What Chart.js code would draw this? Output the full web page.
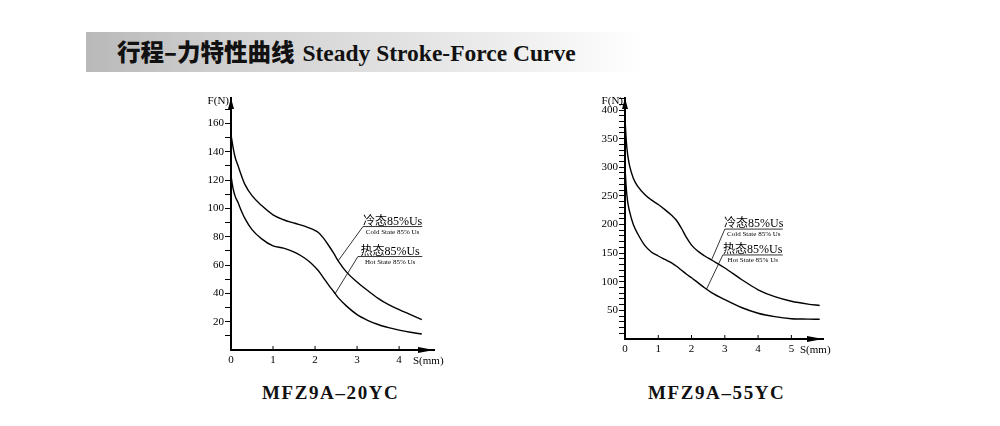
<!DOCTYPE html>
<html>
<head>
<meta charset="utf-8">
<script src="https://cdn.jsdelivr.net/npm/chart.js@4/dist/chart.umd.min.js"></script>
<style>
  body { margin: 0; width: 1000px; height: 426px; background: #fff; position: relative; overflow: hidden; }
  .banner {
    position: absolute; left: 86px; top: 32px; width: 560px; height: 40px;
    background: linear-gradient(to right, #b9b9b9 0%, #cfcfcf 25%, #e4e4e4 60%, #ffffff 100%);
  }
  .banner-text { position: absolute; left: 117px; top: 35px; font-size: 23.5px; line-height: 32px; color: #111; white-space: nowrap; }
  .banner-text .cn { font-family: "Noto Sans CJK SC"; font-weight: 900; }
  .banner-text .en { font-family: "Liberation Serif"; font-weight: bold; margin-left: 8px; }
  .box { position: absolute; }
  .model { position: absolute; top: 382px; font-family: "Liberation Serif"; font-weight: bold; font-size: 19px; letter-spacing: 1.6px; color: #111; }
</style>
</head>
<body>
<div class="banner"></div>
<div class="banner-text"><span class="cn">行程–力特性曲线</span><span class="en">Steady Stroke-Force Curve</span></div>

<div class="box" style="left:180px; top:80px; width:280px; height:300px;"><canvas id="leftChart"></canvas></div>
<div class="box" style="left:575px; top:80px; width:275px; height:290px;"><canvas id="rightChart"></canvas></div>

<div class="model" style="left:262px;">MFZ9A–20YC</div>
<div class="model" style="left:648px;">MFZ9A–55YC</div>

<script>
// MFZ9A-20YC, stroke in mm, force in N
const leftStroke = [0, 0.05, 0.1, 0.17, 0.25, 0.33, 0.5, 0.73, 1.0, 1.25, 1.52, 1.75, 1.92, 2.08, 2.2, 2.32, 2.45, 2.55, 2.75, 3.0, 3.25, 3.5, 3.75, 4.0, 4.27, 4.54];
const leftCold = [152, 143, 136, 130, 123, 117, 109, 102, 95.5, 92, 89.5, 87.5, 85.5, 83, 79, 74, 68, 63, 55, 48, 42, 36.5, 32, 28.5, 25, 21.5];
const leftHot = [123, 114, 108.5, 104, 98, 93, 85, 78.5, 73.5, 72, 69, 65, 61, 56, 51, 46, 41, 37, 31, 25, 21, 18, 15.8, 14, 12.5, 11.3];

// MFZ9A-55YC
const rightStroke = [0, 0.04, 0.08, 0.14, 0.25, 0.39, 0.6, 0.79, 1.0, 1.2, 1.4, 1.55, 1.7, 1.85, 2.0, 2.2, 2.4, 2.6, 3.0, 3.5, 4.0, 4.5, 5.0, 5.5, 5.85];
const rightCold = [385, 345, 322, 302, 281, 266, 252, 243, 235, 226, 216, 207, 193, 177, 164, 153, 145, 138, 124, 104, 86, 74, 66, 61, 58.6];
const rightHot = [300, 262, 240, 222, 200, 183, 163, 152, 145, 139, 133, 127, 120, 113, 107, 98, 89, 81, 68.6, 55, 45, 39, 35.5, 34.8, 34.5];

const coldLabel = '冷态85%Us';
const coldSub = 'Cold State 85% Us';
const hotLabel = '热态85%Us';
const hotSub = 'Hot State 85% Us';

const serif = '"Liberation Serif", "Noto Sans CJK SC", serif';

function pts(xs, ys) {
    return xs.map((x, i) => ({ x: x, y: ys[i] }));
}

// arrows, axis names, x ticks pointing inward, callout labels
const axisDecor = {
    id: 'axisDecor',
    afterDraw(chart, args, opts) {
        const ctx = chart.ctx;
        const a = chart.chartArea;
        const xs = chart.scales.x, ys = chart.scales.y;
        ctx.save();
        ctx.fillStyle = '#000';
        ctx.strokeStyle = '#000';

        // arrow heads
        ctx.beginPath();
        ctx.moveTo(a.left, a.top);
        ctx.lineTo(a.left - 3, a.top + 11);
        ctx.lineTo(a.left + 3, a.top + 11);
        ctx.closePath();
        ctx.fill();
        ctx.beginPath();
        ctx.moveTo(a.right, a.bottom);
        ctx.lineTo(a.right - 16, a.bottom - 3);
        ctx.lineTo(a.right - 16, a.bottom + 3);
        ctx.closePath();
        ctx.fill();

        // x ticks
        ctx.lineWidth = 1;
        xs.ticks.forEach(t => {
            if (t.value === 0) return;
            const px = xs.getPixelForValue(t.value);
            ctx.beginPath();
            ctx.moveTo(px, a.bottom);
            ctx.lineTo(px, a.bottom - 4);
            ctx.stroke();
        });

        // axis names
        ctx.font = '11px ' + serif;
        ctx.textBaseline = 'middle';
        ctx.textAlign = 'right';
        ctx.fillText('F(N)', a.left - 2, a.top + 3);
        ctx.textAlign = 'left';
        ctx.fillText('S(mm)', a.right - opts.sShift, a.bottom + 11);

        // callouts
        opts.callouts.forEach(c => {
            const y = ys.getPixelForValue(c.lineY);
            const x0 = xs.getPixelForValue(c.lineX[0]);
            const x1 = xs.getPixelForValue(c.lineX[1]);
            ctx.lineWidth = 0.8;
            ctx.beginPath();
            ctx.moveTo(x1, y);
            ctx.lineTo(x0, y);
            ctx.lineTo(xs.getPixelForValue(c.to[0]), ys.getPixelForValue(c.to[1]));
            ctx.stroke();
            const mid = (x0 + x1) / 2;
            ctx.textAlign = 'center';
            ctx.textBaseline = 'alphabetic';
            ctx.font = '12px ' + serif;
            ctx.fillText(c.text, mid, y - 2);
            ctx.textBaseline = 'top';
            ctx.font = '7px ' + serif;
            ctx.fillText(c.sub, mid, y + 2);
        });
        ctx.restore();
    }
};

function makeChart(id, stroke, cold, hot, cfg) {
    const ctx = document.getElementById(id).getContext('2d');
    return new Chart(ctx, {
        type: 'scatter',
        data: {
            datasets: [
                { label: 'cold', data: pts(stroke, cold), showLine: true, borderColor: '#000', borderWidth: 1.4, pointRadius: 0, cubicInterpolationMode: 'monotone' },
                { label: 'hot', data: pts(stroke, hot), showLine: true, borderColor: '#000', borderWidth: 1.4, pointRadius: 0, cubicInterpolationMode: 'monotone' }
            ]
        },
        options: {
            responsive: true,
            maintainAspectRatio: false,
            animation: false,
            layout: { padding: { top: 18, right: cfg.padRight, left: 0, bottom: 0 } },
            plugins: {
                legend: { display: false },
                tooltip: { enabled: false },
                axisDecor: { callouts: cfg.callouts, sShift: cfg.sShift }
            },
            scales: {
                x: {
                    type: 'linear', min: 0, max: cfg.xMax,
                    afterBuildTicks: s => { s.ticks = s.ticks.filter(t => Number.isInteger(t.value)); },
                    afterFit: s => { s.height = cfg.xHeight; },
                    ticks: { stepSize: 1, includeBounds: false, autoSkip: false, color: '#000', padding: 4, font: { family: serif, size: 11 }, maxRotation: 0 },
                    grid: { drawOnChartArea: false, drawTicks: false },
                    border: { color: '#000', width: 2 }
                },
                y: {
                    min: 0, max: cfg.yMax,
                    afterBuildTicks: s => { s.ticks = s.ticks.filter(t => t.value > 0 && t.value % 10 === 0); },
                    afterFit: s => { s.width = cfg.yWidth; },
                    ticks: {
                        stepSize: 10, includeBounds: false, autoSkip: false, color: '#000', padding: 1,
                        font: { family: serif, size: 11 },
                        callback: v => (v % cfg.labelStep === 0 ? v : '')
                    },
                    grid: { drawOnChartArea: false, drawTicks: true, tickLength: 6, color: '#000', lineWidth: 1 },
                    border: { color: '#000', width: 2 }
                }
            }
        },
        plugins: [axisDecor]
    });
}

makeChart('leftChart', leftStroke, leftCold, leftHot, {
    xMax: 4.83, yMax: 178, yWidth: 51, xHeight: 30, padRight: 26, labelStep: 20, sShift: 21,
    callouts: [
        { lineY: 87.2, lineX: [3.14, 4.55], to: [2.55, 63], text: coldLabel, sub: coldSub },
        { lineY: 66, lineX: [3.02, 4.55], to: [2.48, 40], text: hotLabel, sub: hotSub }
    ]
});

makeChart('rightChart', rightStroke, rightCold, rightHot, {
    xMax: 5.95, yMax: 421, yWidth: 50, xHeight: 31, padRight: 27, labelStep: 50, sShift: 23,
    callouts: [
        { lineY: 192, lineX: [3.0, 4.74], to: [2.6, 138], text: coldLabel, sub: coldSub },
        { lineY: 146.8, lineX: [2.94, 4.74], to: [2.45, 87], text: hotLabel, sub: hotSub }
    ]
});
</script>
</body>
</html>
